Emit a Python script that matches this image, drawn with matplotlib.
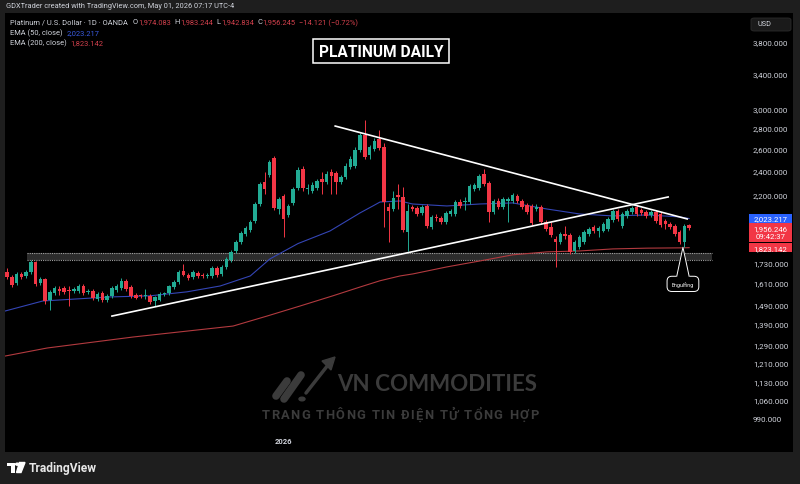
import numpy as np
import matplotlib.pyplot as plt
from matplotlib.patches import Rectangle, Polygon, Circle, FancyBboxPatch
from matplotlib.lines import Line2D
from matplotlib.ticker import NullLocator

W, H = 800, 485
FONT = ['Roboto', 'DejaVu Sans']
UP = '#22ab94'
DOWN = '#f23645'
GREY = '#d1d4dc'
RED_T = '#d2404c'
BLUE_T = '#3a5be0'

# daily candles (index 0 .. 143), prices in USD
opens = [1671, 1642, 1607, 1660, 1648, 1671, 1732, 1607, 1630, 1513,
         1551, 1573, 1579, 1568, 1562, 1562, 1590, 1557, 1562, 1518,
         1551, 1513, 1535, 1568, 1579, 1619, 1584, 1540, 1535, 1535,
         1535, 1507, 1513, 1546, 1551, 1584, 1613, 1677, 1654, 1642,
         1666, 1654, 1648, 1648, 1695, 1660, 1702, 1745, 1802, 1861,
         1914, 1942, 2006, 2131, 2305, 2363, 2511, 2093, 2193, 2049,
         2139, 2256, 2414, 2248, 2232, 2256, 2329, 2305, 2389, 2380,
         2305, 2346, 2432, 2440, 2584, 2726, 2539, 2593, 2687, 2612,
         2108, 2093, 2201, 2185, 1928, 2108, 2101, 2064, 2116, 1963,
         2027, 2027, 1999, 2056, 2056, 2146, 2146, 2146, 2248, 2256,
         2372, 2297, 2071, 2154, 2108, 2154, 2154, 2193, 2154, 2123,
         2116, 2093, 2108, 1999, 1963, 1880, 1861, 1908, 1908, 1802,
         1828, 1861, 1914, 1963, 1935, 1935, 1949, 2013, 2078, 1970,
         2042, 2071, 2108, 2086, 2071, 2049, 2071, 2056, 2006, 1984,
         1970, 1928, 1861, 1974.083]
highs = [1695, 1654, 1671, 1671, 1683, 1745, 1739, 1642, 1636, 1568,
         1590, 1590, 1590, 1590, 1584, 1602, 1602, 1573, 1573, 1557,
         1562, 1546, 1590, 1602, 1636, 1630, 1596, 1551, 1546, 1573,
         1546, 1535, 1557, 1557, 1596, 1624, 1683, 1720, 1666, 1683,
         1677, 1666, 1666, 1708, 1708, 1714, 1764, 1809, 1874, 1935,
         1970, 2013, 2146, 2305, 2389, 2493, 2530, 2185, 2208, 2131,
         2264, 2432, 2440, 2289, 2305, 2329, 2389, 2397, 2414, 2397,
         2363, 2467, 2530, 2612, 2746, 2876, 2631, 2697, 2775, 2649,
         2139, 2232, 2289, 2264, 2131, 2123, 2116, 2123, 2131, 2049,
         2056, 2042, 2078, 2093, 2161, 2169, 2185, 2289, 2297, 2372,
         2414, 2313, 2169, 2177, 2185, 2185, 2216, 2208, 2169, 2139,
         2131, 2131, 2123, 2013, 1999, 1901, 1928, 1970, 1921, 1874,
         1908, 1942, 1963, 1977, 1970, 1999, 2035, 2093, 2093, 2071,
         2093, 2116, 2123, 2101, 2086, 2086, 2086, 2071, 2020, 1999,
         1984, 1942, 1984, 1983.244]
lows = [1630, 1584, 1596, 1630, 1636, 1660, 1590, 1596, 1491, 1459,
        1540, 1540, 1546, 1480, 1551, 1551, 1540, 1546, 1513, 1507,
        1502, 1502, 1524, 1557, 1568, 1562, 1524, 1518, 1524, 1518,
        1491, 1480, 1507, 1535, 1540, 1573, 1602, 1648, 1624, 1630,
        1636, 1636, 1636, 1636, 1642, 1648, 1689, 1732, 1790, 1848,
        1901, 1928, 1991, 2116, 2208, 2346, 2086, 2056, 1894, 2035,
        2123, 2240, 2232, 2208, 2216, 2240, 2208, 2289, 2208, 2208,
        2289, 2329, 2414, 2423, 2566, 2502, 2502, 2575, 2584, 1963,
        1861, 2078, 2093, 1928, 1802, 2078, 2042, 2049, 1956, 1949,
        2006, 1984, 1984, 2042, 2042, 2101, 2086, 2131, 2232, 2240,
        2272, 1999, 2056, 2093, 2093, 1999, 2139, 2139, 2093, 2056,
        1977, 2078, 1984, 1935, 1894, 1702, 1848, 1880, 1783, 1790,
        1815, 1848, 1901, 1921, 1894, 1928, 1935, 1999, 2006, 1956,
        2027, 2056, 2042, 2049, 2027, 2035, 1991, 1963, 1949, 1949,
        1901, 1848, 1828, 1942.834]
closes = [1642, 1596, 1660, 1642, 1671, 1732, 1602, 1630, 1507, 1557,
          1579, 1562, 1557, 1562, 1573, 1590, 1551, 1562, 1524, 1546,
          1513, 1535, 1579, 1590, 1619, 1573, 1535, 1524, 1532, 1537,
          1502, 1529, 1546, 1548, 1590, 1613, 1671, 1654, 1636, 1671,
          1648, 1648, 1651, 1695, 1654, 1702, 1751, 1796, 1861, 1921,
          1956, 1999, 2131, 2289, 2248, 2476, 2101, 2169, 2020, 2116,
          2248, 2406, 2256, 2252, 2280, 2313, 2305, 2372, 2355, 2305,
          2346, 2440, 2502, 2584, 2726, 2521, 2612, 2668, 2603, 2146,
          2078, 2177, 2185, 1942, 2078, 2093, 2056, 2108, 1970, 2035,
          2024, 1999, 2064, 2078, 2146, 2116, 2154, 2272, 2280, 2355,
          2289, 2071, 2154, 2108, 2169, 2169, 2201, 2154, 2108, 2071,
          1991, 2108, 1999, 1949, 1908, 1861, 1914, 1904, 1796, 1861,
          1894, 1928, 1949, 1935, 1956, 1984, 2020, 2078, 2020, 2056,
          2078, 2101, 2056, 2064, 2042, 2071, 2006, 1977, 1984, 1963,
          1914, 1861, 1970, 1956.245]

# EMA lines read at some candle positions
ema50_x = [-0.4, 7.5, 21.6, 30, 37.7, 44.7, 51, 55.1, 61, 67.7, 74, 76.7, 78.2,
           82.4, 85, 92.2, 99.2, 106, 113.2, 120.1, 127, 134.2, 141, 143]
ema50_y = [1454, 1507, 1529, 1535, 1557, 1590, 1648, 1751, 1850, 1935, 2064, 2116, 2146,
           2154, 2131, 2116, 2131, 2139, 2093, 2056, 2042, 2049, 2035, 2023.217]
ema200_x = [-0.4, 8.4, 26.4, 47.4, 54.5, 61.4, 68.3, 74, 78.2, 82.4, 85.1, 92.2,
            99.2, 106, 113.2, 120.1, 127, 134.2, 141.7, 143]
ema200_y = [1238, 1274, 1325, 1378, 1428, 1480, 1535, 1584, 1620, 1648, 1660, 1702,
            1739, 1777, 1796, 1802, 1815, 1820, 1822, 1823.142]

price_ticks = [3800, 3400, 3000, 2800, 2600, 2400, 2200, 1730, 1610, 1490,
               1390, 1290, 1210, 1130, 1060, 990]
year_tick = 58
year_label = '2026'

upper_line_x = [68.8, 142.6]
upper_line_y = [2815, 2020]
lower_line_x = [22.0, 138.6]
lower_line_y = [1428, 2185]
zone_x = [4.2, 147.8]
zone_y = [1745, 1790]
engulf_x = 141.7
engulf_tip = 1826
engulf_box = 1602

plt.rcParams['font.family'] = FONT

fig = plt.figure(figsize=(W / 100, H / 100), dpi=100, facecolor='#1e1e1e')
renderer = fig.canvas.get_renderer()


def fx(x):
    return x / W


def fy(y):
    return 1 - y / H


def rect(x0, y0, x1, y1, **kw):
    r = Rectangle((fx(x0), fy(y1)), (x1 - x0) / W, (y1 - y0) / H,
                  transform=fig.transFigure, **kw)
    fig.patches.append(r)
    return r


# black chart pane + price scale
rect(5, 14, 793, 453, fc='black', ec='none', zorder=-10)

ax = fig.add_axes([fx(5), fy(453), 742 / W, 439 / H])
ax.set_facecolor('black')
ax.set_yscale('log')
ax.set_xlim(-0.42, 155.13)
ax.set_ylim(878.8, 4215)
for s in ax.spines.values():
    s.set_visible(False)
ax.set_xticks([])
ax.yaxis.tick_right()
ax.set_yticks(price_ticks)
ax.set_yticklabels([f'{p:,.3f}' for p in price_ticks])
ax.yaxis.set_minor_locator(NullLocator())
ax.tick_params(axis='y', length=0, pad=4.3, labelsize=5.8, labelcolor=GREY)

# support zone
ax.add_patch(Rectangle((zone_x[0], zone_y[0]), zone_x[1] - zone_x[0], zone_y[1] - zone_y[0],
                       fc='#2c2c2c', ec='none', zorder=1))
ax.hlines(zone_y, zone_x[0], zone_x[1], colors='#a0a0a0', linestyles=(0, (1, 1)),
          lw=0.8, zorder=1.5)

# EMAs
ax.plot(ema50_x, ema50_y, color='#3445b5', lw=0.8, zorder=2)
ax.plot(ema200_x, ema200_y, color='#b23a3f', lw=0.8, zorder=2)

# candles
o = np.array(opens)
h = np.array(highs)
l = np.array(lows)
c = np.array(closes)
idx = np.arange(len(c))
col = np.where(c >= o, UP, DOWN)
ax.vlines(idx, l, h, colors=col, lw=0.7, zorder=3)
bottom = np.minimum(o, c)
height = np.maximum(np.abs(c - o), bottom * 0.004)
ax.bar(idx, height, bottom=bottom, width=0.74, color=col, linewidth=0, zorder=4)

# trend lines
ax.plot(upper_line_x, upper_line_y, color='white', lw=1.2, zorder=5)
ax.plot(lower_line_x, lower_line_y, color='white', lw=1.2, zorder=5)

# year label on time axis
ax.text(year_tick, 0.027, year_label, transform=ax.get_xaxis_transform(), ha='center',
        va='center', fontsize=5.5, weight='bold', color=GREY)

# engulfing callout
et = ax.text(engulf_x, engulf_box, 'Engulfing', ha='center', va='center', fontsize=3.8,
             color='white', zorder=7,
             bbox=dict(boxstyle='round,pad=0.9,rounding_size=0.9', fc='black', ec='white', lw=0.7))
fig.canvas.draw()
bb = et.get_bbox_patch().get_window_extent(renderer)
box_top = ax.transData.inverted().transform((bb.x0, bb.y1))[1]
px = [engulf_x - 1.3, engulf_x, engulf_x + 1.3]
ax.fill(px, [box_top * 0.996, engulf_tip, box_top * 0.996], color='black', zorder=8)
ax.plot(px, [box_top, engulf_tip, box_top], color='white', lw=0.7, zorder=9)


# price labels on the scale
def price_box(price, lines, fc):
    ypx = H - ax.transData.transform((0, price))[1]
    nh = 9.5 * len(lines)
    top = ypx - 4.75
    rect(749, top, 792, top + nh, fc=fc, ec='none', zorder=5)
    for k, s in enumerate(lines):
        fig.text(fx(770.5), fy(ypx + 8.5 * k), s, ha='center', va='center', fontsize=5.6,
                 color='white', zorder=6)


price_box(ema200_y[-1], [f'{ema200_y[-1]:,.3f}'], DOWN)
price_box(closes[-1], ['1,956.246', '09:42:37'], DOWN)
price_box(ema50_y[-1], [f'{ema50_y[-1]:,.3f}'], '#2962ff')

# USD box
fig.patches.append(FancyBboxPatch((fx(751), fy(32)), 40 / W, 13 / H,
                                  boxstyle='round,pad=0,rounding_size=0.004',
                                  transform=fig.transFigure, fc='#1a1a1a', ec='#2c2c2c', lw=0.6))
fig.text(fx(757), fy(25), 'USD', fontsize=5.2, color=GREY, va='center', ha='left')

# header texts
fig.text(fx(6), fy(7), 'GDXTrader created with TradingView.com, May 01, 2026 07:17 UTC-4',
         fontsize=5.35, color=GREY, va='center', ha='left')


def run(x, y, parts, size):
    for s, color, gap in parts:
        t = fig.text(fx(x), fy(y), s, fontsize=size, color=color, va='center', ha='left')
        x += t.get_window_extent(renderer).width + gap


run(10, 23, [('Platinum / U.S. Dollar · 1D · OANDA', GREY, 4.5),
             ('O', GREY, 0.5), (f'{opens[-1]:,.3f}', RED_T, 3.5),
             ('H', GREY, 0.5), (f'{highs[-1]:,.3f}', RED_T, 3.5),
             ('L', GREY, 0.5), (f'{lows[-1]:,.3f}', RED_T, 3.5),
             ('C', GREY, 0.5), (f'{closes[-1]:,.3f}', RED_T, 3.5),
             ('−14.121 (−0.72%)', RED_T, 0)], 5.4)
run(10, 33.5, [('EMA (50, close)', GREY, 3.5), (f'{ema50_y[-1]:,.3f}', BLUE_T, 0)], 5.4)
run(10, 43.5, [('EMA (200, close)', GREY, 3.5), (f'{ema200_y[-1]:,.3f}', RED_T, 0)], 5.4)

# title box
rect(313, 40, 449, 64, fc='black', ec='white', lw=1.1, zorder=5)
tt = fig.text(fx(381), fy(52.5), 'PLATINUM DAILY', ha='center', va='center', fontsize=10,
              weight='bold', color='white', zorder=6)
wdt = tt.get_window_extent(renderer).width
tt.set_fontsize(10 * 124 / wdt)

# watermark
WM = '#3b3b3b'
vn = fig.text(fx(437), fy(385), 'VN COMMODITIES', ha='center', va='center', fontsize=15,
              weight='bold', color=WM, family=['Lato', 'DejaVu Sans'])
wdt = vn.get_window_extent(renderer).width
vn.set_fontsize(15 * 200 / wdt)


def tracked(s, x0, x1, y, size, color):
    items = []
    for ch in s:
        if ch == ' ':
            items.append((None, size * 100 / 72 * 0.3))
        else:
            t = fig.text(0, 0, ch, fontsize=size, color=color, va='center', ha='left',
                         weight='semibold')
            items.append((t, t.get_window_extent(renderer).width))
    gap = (x1 - x0 - sum(w for _, w in items)) / (len(items) - 1)
    x = x0
    for t, w in items:
        if t is not None:
            t.set_position((fx(x), fy(y)))
        x += w + gap


tracked('TRANG THÔNG TIN ĐIỆN TỬ TỔNG HỢP', 262, 538, 416, 9.3, WM)

# watermark logo
for (a, b, cc, d) in [(276, 397, 287, 382), (284, 400, 301, 376)]:
    fig.add_artist(Line2D([fx(a), fx(cc)], [fy(b), fy(d)], lw=5.5, color=WM,
                          solid_capstyle='round', transform=fig.transFigure))
fig.add_artist(Circle((fx(302), fy(400)), 3 / W, color=WM, transform=fig.transFigure))
fig.add_artist(Line2D([fx(306), fx(328)], [fy(394), fy(366)], lw=2.5, color=WM,
                      solid_capstyle='round', transform=fig.transFigure))
fig.add_artist(Polygon([(fx(335), fy(358)), (fx(322), fy(362)), (fx(331), fy(371))],
                       closed=True, color=WM, transform=fig.transFigure))

# TradingView logo bottom left
rect(7, 463.5, 14.5, 466.8, fc='white', ec='none')
rect(11, 463.5, 14.5, 473.5, fc='white', ec='none')
fig.add_artist(Circle((fx(17.3), fy(465.2)), 1.7 / W, color='white', transform=fig.transFigure))
fig.add_artist(Polygon([(fx(19.5), fy(463.5)), (fx(25), fy(463.5)), (fx(21), fy(473.5)),
                        (fx(16.5), fy(473.5))], closed=True, color='white',
                       transform=fig.transFigure))
tv = fig.text(fx(28.5), fy(468.5), 'TradingView', ha='left', va='center', fontsize=9.5,
              weight='bold', color='#e8e8e8')
wdt = tv.get_window_extent(renderer).width
tv.set_fontsize(9.5 * 69 / wdt)

fig.savefig('out.png', dpi=100, facecolor=fig.get_facecolor())
